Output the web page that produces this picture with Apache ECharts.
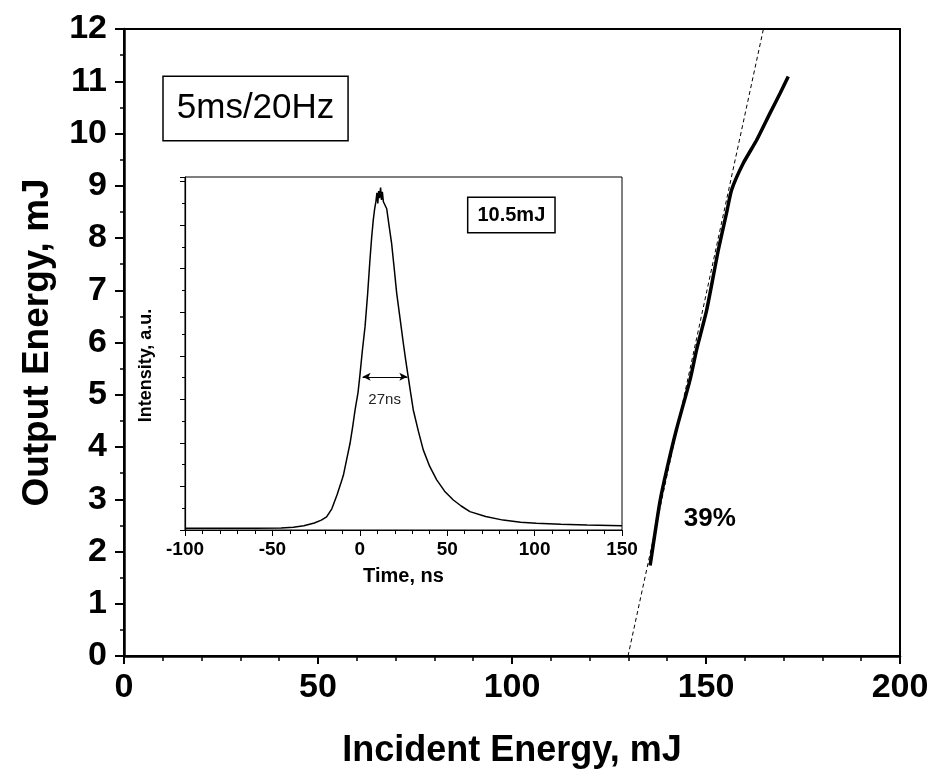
<!DOCTYPE html>
<html>
<head>
<meta charset="utf-8">
<script src="https://cdn.jsdelivr.net/npm/echarts@6/dist/echarts.min.js"></script>
<style>
html,body{margin:0;padding:0;background:#fff;}
#chart{width:932px;height:774px;}
</style>
</head>
<body>
<div id="chart"></div>
<script>
// Main plot: measured output vs incident energy
var incidentEnergy = [135.6, 138.1, 139.9, 142.4, 145.9, 147.6, 150.2, 153.2, 155.3, 156.6, 159.6, 163.1, 166.5, 169.1, 171.2];
var outputEnergy   = [1.73, 2.94, 3.57, 4.34, 5.29, 5.87, 6.63, 7.78, 8.48, 8.92, 9.43, 9.88, 10.39, 10.77, 11.09];
// Linear fit (dashed)
var fitIncident = [129.9, 164.8];
var fitOutput   = [0, 12];
// Inset: pulse shape
var pulseTime = [-100,-80,-60,-45,-38,-32,-26,-22,-19,-16,-13,-11,-9.4,-7.5,-5.6,-4,-2.7,-1,0.1,1.5,3,4.5,5.8,6.8,7.7,8.5,9.2,9.8,10.3,10.8,11.3,11.9,12.4,12.9,13.5,14.2,15.4,16.8,18.2,19.6,21.1,23,24.9,26.3,27.7,29.2,30.6,33.5,36.3,40,44,48.5,53.5,58,63,72,82,92,101,115,130,150];
var pulseIntensity = [0.005,0.005,0.005,0.006,0.008,0.012,0.02,0.028,0.037,0.06,0.1,0.13,0.155,0.2,0.245,0.295,0.34,0.39,0.44,0.51,0.576,0.67,0.765,0.83,0.878,0.91,0.93,0.955,0.925,0.96,0.94,0.97,0.935,0.958,0.93,0.935,0.91,0.86,0.812,0.745,0.671,0.6,0.529,0.48,0.434,0.385,0.34,0.28,0.227,0.18,0.142,0.11,0.085,0.068,0.052,0.038,0.028,0.022,0.019,0.016,0.014,0.012];
// FWHM marker
var fwhmTimes = [1.6, 27.2];
var fwhmLevel = 0.434;
// Annotations
var mainLabels = [{x: 33.9, y: 10.48, text: '5ms/20Hz'}, {x: 151, y: 2.62, text: '39%'}];
var insetLabels = [{x: 86.7, y: 0.892, text: '10.5mJ'}, {x: 14.2, y: 0.37, text: '27ns'}];

var FONT = "'Liberation Sans', Arial, sans-serif";

function zip(a, b) { return a.map(function (v, i) { return [v, b[i]]; }); }

var chart = echarts.init(document.getElementById('chart'), null, {renderer: 'canvas'});

var option = {
  backgroundColor: '#fff',
  animation: false,
  grid: [
    {left: 124, right: 32, top: 29, bottom: 117, show: true, borderColor: '#000', borderWidth: 2, backgroundColor: 'transparent'},
    {left: 185, right: 310, top: 177, bottom: 244, show: true, borderColor: '#000', borderWidth: 1, backgroundColor: '#fff'}
  ],
  xAxis: [
    {
      gridIndex: 0, type: 'value', min: 0, max: 200, interval: 50,
      name: 'Incident Energy, mJ', nameLocation: 'middle', nameGap: 77,
      nameTextStyle: {fontFamily: FONT, fontSize: 36, fontWeight: 'bold', color: '#000'},
      axisLine: {show: true, onZero: false, lineStyle: {color: '#000', width: 2.5}},
      axisTick: {show: true, inside: false, length: 8, lineStyle: {color: '#000', width: 2}},
      minorTick: {show: true, splitNumber: 5, length: 5, lineStyle: {color: '#000', width: 1.5}},
      splitLine: {show: false},
      axisLabel: {fontFamily: FONT, fontSize: 34, fontWeight: 'bold', color: '#000', margin: 15}
    },
    {
      gridIndex: 1, type: 'value', min: -100, max: 150, interval: 50,
      name: 'Time, ns', nameLocation: 'middle', nameGap: 36,
      nameTextStyle: {fontFamily: FONT, fontSize: 20, fontWeight: 'bold', color: '#000'},
      axisLine: {show: true, onZero: false, lineStyle: {color: '#000', width: 1.2}},
      axisTick: {show: true, inside: false, length: 6, lineStyle: {color: '#000', width: 1}},
      minorTick: {show: true, splitNumber: 5, length: 4, lineStyle: {color: '#000', width: 1}},
      splitLine: {show: false},
      axisLabel: {fontFamily: FONT, fontSize: 19, fontWeight: 'bold', color: '#000', margin: 10}
    }
  ],
  yAxis: [
    {
      gridIndex: 0, type: 'value', min: 0, max: 12, interval: 1,
      name: 'Output Energy, mJ', nameLocation: 'middle', nameGap: 68,
      nameTextStyle: {fontFamily: FONT, fontSize: 37, fontWeight: 'bold', color: '#000'},
      axisLine: {show: true, onZero: false, lineStyle: {color: '#000', width: 2.5}},
      axisTick: {show: true, inside: false, length: 9, lineStyle: {color: '#000', width: 2}},
      minorTick: {show: true, splitNumber: 2, length: 4, lineStyle: {color: '#000', width: 1.5}},
      splitLine: {show: false},
      axisLabel: {fontFamily: FONT, fontSize: 34, fontWeight: 'bold', color: '#000', margin: 17}
    },
    {
      gridIndex: 1, type: 'value', min: 0, max: 1, interval: 0.1234,
      name: 'Intensity, a.u.', nameLocation: 'middle', nameGap: 30,
      nameTextStyle: {fontFamily: FONT, fontSize: 18, fontWeight: 'bold', color: '#000', padding: [0, 24, 0, 0]},
      axisLine: {show: true, onZero: false, lineStyle: {color: '#000', width: 1.2}},
      axisTick: {show: true, inside: false, length: 5, lineStyle: {color: '#000', width: 1}},
      minorTick: {show: true, splitNumber: 2, length: 3, lineStyle: {color: '#000', width: 1}},
      splitLine: {show: false},
      axisLabel: {show: false}
    }
  ],
  series: [
    {
      type: 'line', xAxisIndex: 0, yAxisIndex: 0, smooth: 0.2, showSymbol: false, symbol: 'none',
      data: zip(incidentEnergy, outputEnergy),
      lineStyle: {color: '#000', width: 3.5}, z: 3
    },
    {
      type: 'line', xAxisIndex: 0, yAxisIndex: 0, showSymbol: false, symbol: 'none',
      data: zip(fitIncident, fitOutput),
      lineStyle: {color: '#000', width: 1, type: [4, 3]}, z: 2
    },
    {
      type: 'scatter', xAxisIndex: 0, yAxisIndex: 0, symbolSize: 0, silent: true,
      itemStyle: {opacity: 1},
      data: mainLabels.map(function (d, i) {
        var lbl = i === 0
          ? {show: true, position: 'inside', formatter: d.text, fontFamily: FONT, fontSize: 35, lineHeight: 35, color: '#000', opacity: 1,
             borderColor: '#000', borderWidth: 1.5, padding: [14, 13, 14, 13], backgroundColor: '#fff'}
          : {show: true, position: 'inside', formatter: d.text, fontFamily: FONT, fontSize: 26, fontWeight: 'bold', color: '#000', opacity: 1};
        return {value: [d.x, d.y], label: lbl};
      }),
      z: 5
    },
    {
      type: 'line', xAxisIndex: 1, yAxisIndex: 1, showSymbol: false, symbol: 'none',
      data: zip(pulseTime, pulseIntensity),
      lineStyle: {color: '#000', width: 1.5}, z: 4,
      markLine: {
        silent: true, symbol: ['arrow', 'arrow'], symbolSize: [6, 8],
        lineStyle: {color: '#000', width: 1, type: 'solid'},
        label: {show: false},
        data: [[{coord: [fwhmTimes[0], fwhmLevel]}, {coord: [fwhmTimes[1], fwhmLevel]}]]
      }
    },
    {
      type: 'scatter', xAxisIndex: 1, yAxisIndex: 1, symbolSize: 0, silent: true,
      itemStyle: {opacity: 1},
      data: insetLabels.map(function (d, i) {
        var lbl = i === 0
          ? {show: true, position: 'inside', formatter: d.text, fontFamily: FONT, fontSize: 20, lineHeight: 20, fontWeight: 'bold', color: '#000', opacity: 1,
             borderColor: '#000', borderWidth: 1.5, padding: [7, 9, 7, 9], backgroundColor: '#fff'}
          : {show: true, position: 'inside', formatter: d.text, fontFamily: FONT, fontSize: 15, color: '#222', opacity: 1};
        return {value: [d.x, d.y], label: lbl};
      }),
      z: 5
    }
  ]
};
chart.setOption(option);
</script>
</body>
</html>
